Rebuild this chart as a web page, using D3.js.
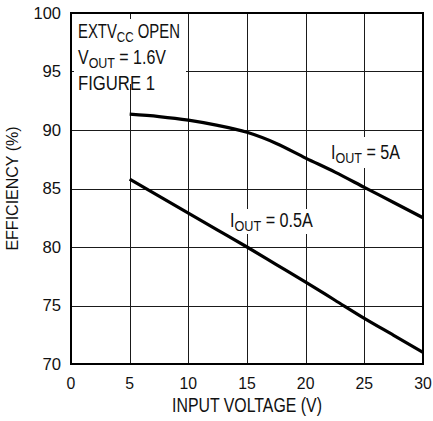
<!DOCTYPE html>
<html><head><meta charset="utf-8">
<script src="https://cdn.jsdelivr.net/npm/d3@7"></script>
<style>body{margin:0;background:#fff}</style>
</head><body>
<svg id="c" width="433" height="421"></svg>
<script>
const xTicks = [0, 5, 10, 15, 20, 25, 30];
const yTicks = [70, 75, 80, 85, 90, 95, 100];
const vin = [5, 7.5, 10, 12.5, 15, 17.5, 20, 22.5, 25, 27.5, 30];
const eff5A = [91.35, 91.15, 90.85, 90.4, 89.8, 88.85, 87.6, 86.4, 85.1, 83.8, 82.5];
const eff05A = [85.8, 84.35, 82.9, 81.45, 80.0, 78.5, 77.0, 75.45, 73.9, 72.45, 71.0];

const FONT = "'Liberation Sans', Arial, sans-serif";
const svg = d3.select("#c");
const L = 71, R = 423, T = 13, B = 364;
const x = d3.scaleLinear().domain([0, 30]).range([L, R]);
const y = d3.scaleLinear().domain([70, 100]).range([B, T]);

// grid
const g = svg.append("g").attr("shape-rendering", "crispEdges").attr("stroke", "#1a1a1a").attr("stroke-width", 1);
xTicks.filter(d => d > 0 && d < 30).forEach(d => {
  const px = Math.round(x(d)) + 0.5;
  g.append("line").attr("x1", px).attr("x2", px).attr("y1", T).attr("y2", B);
});
yTicks.filter(d => d > 70 && d < 100).forEach(d => {
  const py = Math.round(y(d)) + 0.5;
  g.append("line").attr("x1", L).attr("x2", R).attr("y1", py).attr("y2", py);
});

// white backgrounds for labels
svg.append("rect").attr("x", 74).attr("y", 19).attr("width", 112).attr("height", 65).attr("fill", "#fff");
svg.append("rect").attr("x", 327).attr("y", 137).attr("width", 76).attr("height", 31).attr("fill", "#fff");
svg.append("rect").attr("x", 227).attr("y", 209).attr("width", 88).attr("height", 25).attr("fill", "#fff");

// frame
svg.append("rect").attr("x", L).attr("y", T).attr("width", R - L).attr("height", B - T)
  .attr("fill", "none").attr("stroke", "#000").attr("stroke-width", 2);

// curves
const line = d3.line().x(d => x(d[0])).y(d => y(d[1])).curve(d3.curveMonotoneX);
[eff5A, eff05A].forEach(s => {
  svg.append("path").datum(vin.map((v, i) => [v, s[i]])).attr("d", line)
    .attr("fill", "none").attr("stroke", "#000").attr("stroke-width", 3.2);
});

// condense a text element horizontally to a target width around its anchor
function condense(t, x0, y0, target, anchor) {
  const w = t.node().getBBox().width;
  const k = target / w;
  t.attr("transform", `translate(${x0},${y0}) scale(${k},1) translate(${-x0},${-y0})`);
}

// tick labels
xTicks.forEach(d => {
  const t = svg.append("text").attr("x", x(d)).attr("y", 389).attr("text-anchor", "middle")
    .attr("font-family", FONT).attr("font-size", 17).attr("fill", "#111").text(d);
  condense(t, x(d), 389, (String(d).length) * 8.8);
});
yTicks.forEach(d => {
  const t = svg.append("text").attr("x", 61).attr("y", y(d) + 6).attr("text-anchor", "end")
    .attr("font-family", FONT).attr("font-size", 17).attr("fill", "#111").text(d);
  condense(t, 61, y(d) + 6, String(d).length * 8.8 + 1);
});

// axis titles
const xt = svg.append("text").attr("x", x(15)).attr("y", 412).attr("text-anchor", "middle")
  .attr("font-family", FONT).attr("font-size", 19.5).attr("fill", "#111").text("INPUT VOLTAGE (V)");
condense(xt, x(15), 412, 150);
svg.append("text").attr("transform", `translate(18,${(T + B) / 2}) rotate(-90)`).attr("text-anchor", "middle")
  .attr("font-family", FONT).attr("font-size", 16).attr("fill", "#111").text("EFFICIENCY (%)");

// annotations
function sub(x0, y0, main, subs, rest, size, target) {
  const t = svg.append("text").attr("x", x0).attr("y", y0).attr("font-family", FONT)
    .attr("font-size", size).attr("fill", "#111");
  t.append("tspan").text(main);
  if (subs) {
    t.append("tspan").attr("font-size", size * 0.78).attr("dy", 4).text(subs);
    t.append("tspan").attr("dy", -4).text(rest);
  }
  condense(t, x0, y0, target);
  return t;
}
sub(78, 38.5, "EXTV", "CC", " OPEN", 19.5, 102);
sub(78, 64.5, "V", "OUT", " = 1.6V", 19.5, 88);
sub(78, 90, "FIGURE 1", null, null, 19.5, 77);
sub(331, 159.5, "I", "OUT", " = 5A", 19.5, 69);
sub(230, 227, "I", "OUT", " = 0.5A", 19.5, 83);
</script>
</body></html>
